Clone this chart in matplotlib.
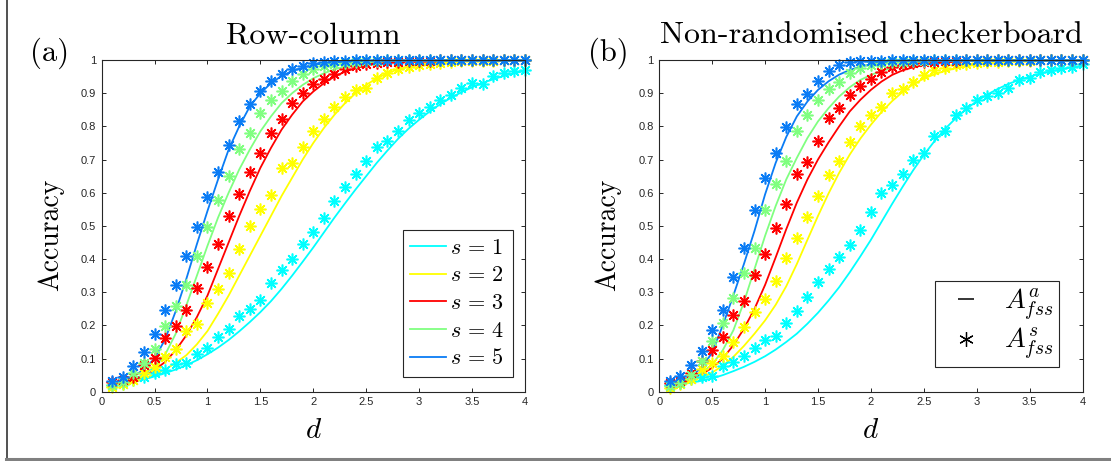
import numpy as np
import matplotlib
matplotlib.use("Agg")
import matplotlib.pyplot as plt
from matplotlib.lines import Line2D

plt.rcParams["mathtext.fontset"] = "cm"
plt.rcParams["font.family"] = ["Liberation Sans", "DejaVu Sans"]

# signal strength d, sampled every 0.1
d = np.linspace(0.1, 4.0, 40)
s_labels = [r"$s\,=\,1$", r"$s\,=\,2$", r"$s\,=\,3$", r"$s\,=\,4$", r"$s\,=\,5$"]
s_colors = ["#00FFFF", "#FFFF00", "#FF0000", "#80FF80", "#0A7CF5"]

xtick_vals = [0, 0.5, 1, 1.5, 2, 2.5, 3, 3.5, 4]
xtick_labels = ["0", "0.5", "1", "1.5", "2", "2.5", "3", "3.5", "4"]
ytick_vals = [0, 0.1, 0.2, 0.3, 0.4, 0.5, 0.6, 0.7, 0.8, 0.9, 1]
ytick_labels = ["0", "0.1", "0.2", "0.3", "0.4", "0.5", "0.6", "0.7", "0.8", "0.9", "1"]

# ---- Row-column design: analytic accuracy (lines) and simulated (stars)
rc_line_s1 = [0.022, 0.026, 0.031, 0.038, 0.046, 0.056, 0.067, 0.080, 0.095, 0.113,
              0.133, 0.156, 0.182, 0.210, 0.240, 0.273, 0.310, 0.350, 0.392, 0.435,
              0.480, 0.525, 0.568, 0.610, 0.650, 0.690, 0.727, 0.762, 0.793, 0.820,
              0.845, 0.867, 0.886, 0.903, 0.918, 0.931, 0.942, 0.952, 0.960, 0.967]
rc_line_s2 = [0.022, 0.027, 0.033, 0.041, 0.052, 0.067, 0.087, 0.110, 0.143, 0.183,
              0.235, 0.290, 0.350, 0.410, 0.470, 0.530, 0.590, 0.645, 0.700, 0.750,
              0.795, 0.835, 0.870, 0.900, 0.925, 0.945, 0.960, 0.972, 0.980, 0.986,
              0.990, 0.993, 0.995, 0.997, 0.998, 0.998, 0.999, 0.999, 0.999, 1.000]
rc_line_s3 = [0.022, 0.027, 0.035, 0.047, 0.065, 0.090, 0.125, 0.170, 0.225, 0.290,
              0.370, 0.450, 0.530, 0.605, 0.675, 0.735, 0.790, 0.835, 0.875, 0.905,
              0.930, 0.950, 0.965, 0.976, 0.984, 0.990, 0.993, 0.996, 0.997, 0.998,
              0.999, 0.999, 0.999, 1.000, 1.000, 1.000, 1.000, 1.000, 1.000, 1.000]
rc_line_s4 = [0.022, 0.028, 0.037, 0.052, 0.075, 0.112, 0.175, 0.260, 0.350, 0.440,
              0.525, 0.600, 0.670, 0.730, 0.785, 0.830, 0.870, 0.900, 0.925, 0.945,
              0.960, 0.972, 0.980, 0.986, 0.990, 0.993, 0.995, 0.997, 0.998, 0.999,
              0.999, 0.999, 1.000, 1.000, 1.000, 1.000, 1.000, 1.000, 1.000, 1.000]
rc_line_s5 = [0.022, 0.030, 0.045, 0.068, 0.100, 0.158, 0.243, 0.340, 0.445, 0.545,
              0.640, 0.730, 0.800, 0.860, 0.900, 0.930, 0.952, 0.967, 0.977, 0.985,
              0.990, 0.993, 0.995, 0.997, 0.998, 0.999, 0.999, 1.000, 1.000, 1.000,
              1.000, 1.000, 1.000, 1.000, 1.000, 1.000, 1.000, 1.000, 1.000, 1.000]

rc_star_s1 = [0.020, 0.022, 0.035, 0.045, 0.055, 0.065, 0.085, 0.087, 0.113, 0.133,
              0.165, 0.189, 0.227, 0.248, 0.278, 0.328, 0.367, 0.400, 0.445, 0.482,
              0.523, 0.576, 0.618, 0.656, 0.696, 0.737, 0.756, 0.787, 0.819, 0.841,
              0.859, 0.879, 0.894, 0.917, 0.930, 0.928, 0.953, 0.960, 0.968, 0.970]
rc_star_s2 = [0.015, 0.023, 0.035, 0.057, 0.075, 0.105, 0.130, 0.182, 0.203, 0.267,
              0.310, 0.357, 0.430, 0.500, 0.550, 0.593, 0.675, 0.690, 0.739, 0.786,
              0.822, 0.857, 0.889, 0.910, 0.917, 0.947, 0.960, 0.972, 0.980, 0.985,
              0.989, 0.992, 0.994, 0.996, 0.997, 0.998, 0.998, 0.999, 0.999, 0.999]
rc_star_s3 = [0.030, 0.035, 0.045, 0.080, 0.103, 0.163, 0.197, 0.247, 0.313, 0.375,
              0.445, 0.530, 0.596, 0.663, 0.719, 0.781, 0.822, 0.871, 0.900, 0.927,
              0.942, 0.957, 0.972, 0.982, 0.988, 0.990, 0.993, 0.995, 0.997, 0.998,
              0.998, 0.999, 0.999, 0.999, 1.000, 1.000, 1.000, 1.000, 1.000, 1.000]
rc_star_s4 = [0.020, 0.028, 0.055, 0.087, 0.130, 0.198, 0.257, 0.323, 0.410, 0.497,
              0.578, 0.651, 0.731, 0.781, 0.839, 0.879, 0.908, 0.937, 0.957, 0.972,
              0.982, 0.988, 0.992, 0.995, 0.997, 0.998, 0.999, 0.999, 1.000, 1.000,
              1.000, 1.000, 1.000, 1.000, 1.000, 1.000, 1.000, 1.000, 1.000, 1.000]
rc_star_s5 = [0.033, 0.045, 0.077, 0.120, 0.175, 0.247, 0.323, 0.410, 0.497, 0.586,
              0.661, 0.744, 0.816, 0.867, 0.906, 0.938, 0.958, 0.972, 0.982, 0.990,
              0.995, 0.996, 0.998, 0.999, 0.999, 1.000, 1.000, 1.000, 1.000, 1.000,
              1.000, 1.000, 1.000, 1.000, 1.000, 1.000, 1.000, 1.000, 1.000, 1.000]

# ---- Non-randomised checkerboard design
cb_line_s1 = [0.020, 0.023, 0.027, 0.033, 0.040, 0.050, 0.062, 0.075, 0.090, 0.107,
              0.127, 0.150, 0.175, 0.205, 0.238, 0.275, 0.315, 0.360, 0.408, 0.458,
              0.512, 0.566, 0.618, 0.668, 0.714, 0.755, 0.792, 0.824, 0.852, 0.876,
              0.896, 0.913, 0.928, 0.940, 0.950, 0.959, 0.966, 0.972, 0.978, 0.983]
cb_line_s2 = [0.020, 0.025, 0.032, 0.043, 0.058, 0.078, 0.105, 0.138, 0.175, 0.215,
              0.262, 0.318, 0.385, 0.458, 0.530, 0.598, 0.660, 0.715, 0.763, 0.805,
              0.843, 0.876, 0.904, 0.927, 0.944, 0.957, 0.967, 0.975, 0.981, 0.986,
              0.990, 0.993, 0.995, 0.996, 0.997, 0.998, 0.999, 0.999, 0.999, 1.000]
cb_line_s3 = [0.020, 0.027, 0.038, 0.053, 0.072, 0.100, 0.140, 0.190, 0.250, 0.322,
              0.405, 0.490, 0.570, 0.640, 0.700, 0.752, 0.800, 0.845, 0.880, 0.910,
              0.935, 0.955, 0.969, 0.978, 0.985, 0.990, 0.993, 0.995, 0.997, 0.998,
              0.999, 0.999, 1.000, 1.000, 1.000, 1.000, 1.000, 1.000, 1.000, 1.000]
cb_line_s4 = [0.020, 0.028, 0.040, 0.058, 0.082, 0.125, 0.185, 0.270, 0.370, 0.470,
              0.560, 0.640, 0.705, 0.765, 0.815, 0.855, 0.890, 0.918, 0.940, 0.955,
              0.967, 0.976, 0.983, 0.988, 0.992, 0.994, 0.996, 0.997, 0.998, 0.999,
              0.999, 1.000, 1.000, 1.000, 1.000, 1.000, 1.000, 1.000, 1.000, 1.000]
cb_line_s5 = [0.022, 0.030, 0.047, 0.072, 0.118, 0.200, 0.290, 0.385, 0.485, 0.595,
              0.690, 0.768, 0.830, 0.875, 0.910, 0.936, 0.956, 0.970, 0.980, 0.987,
              0.992, 0.995, 0.997, 0.998, 0.999, 0.999, 1.000, 1.000, 1.000, 1.000,
              1.000, 1.000, 1.000, 1.000, 1.000, 1.000, 1.000, 1.000, 1.000, 1.000]

cb_star_s1 = [0.020, 0.025, 0.037, 0.045, 0.047, 0.077, 0.089, 0.107, 0.132, 0.157,
              0.169, 0.207, 0.242, 0.285, 0.332, 0.370, 0.407, 0.442, 0.488, 0.541,
              0.600, 0.622, 0.655, 0.698, 0.721, 0.771, 0.786, 0.833, 0.855, 0.879,
              0.891, 0.902, 0.916, 0.941, 0.947, 0.964, 0.969, 0.976, 0.979, 0.989]
cb_star_s2 = [0.012, 0.022, 0.039, 0.067, 0.087, 0.109, 0.149, 0.195, 0.239, 0.279,
              0.335, 0.402, 0.462, 0.527, 0.590, 0.653, 0.695, 0.753, 0.801, 0.835,
              0.858, 0.900, 0.914, 0.934, 0.954, 0.969, 0.976, 0.984, 0.988, 0.991,
              0.993, 0.995, 0.996, 0.997, 0.998, 0.999, 0.999, 0.999, 1.000, 1.000]
cb_star_s3 = [0.027, 0.032, 0.055, 0.092, 0.127, 0.165, 0.232, 0.272, 0.352, 0.415,
              0.495, 0.567, 0.655, 0.693, 0.755, 0.825, 0.855, 0.896, 0.921, 0.942,
              0.964, 0.979, 0.986, 0.990, 0.993, 0.995, 0.997, 0.998, 0.999, 0.999,
              1.000, 1.000, 1.000, 1.000, 1.000, 1.000, 1.000, 1.000, 1.000, 1.000]
cb_star_s4 = [0.017, 0.025, 0.050, 0.092, 0.152, 0.207, 0.282, 0.357, 0.432, 0.547,
              0.625, 0.695, 0.785, 0.835, 0.878, 0.914, 0.934, 0.961, 0.977, 0.984,
              0.990, 0.993, 0.995, 0.997, 0.998, 0.999, 0.999, 1.000, 1.000, 1.000,
              1.000, 1.000, 1.000, 1.000, 1.000, 1.000, 1.000, 1.000, 1.000, 1.000]
cb_star_s5 = [0.032, 0.047, 0.082, 0.122, 0.187, 0.247, 0.347, 0.432, 0.547, 0.645,
              0.721, 0.798, 0.868, 0.899, 0.937, 0.967, 0.986, 0.994, 0.996, 0.997,
              0.998, 0.999, 0.999, 1.000, 1.000, 1.000, 1.000, 1.000, 1.000, 1.000,
              1.000, 1.000, 1.000, 1.000, 1.000, 1.000, 1.000, 1.000, 1.000, 1.000]

rc_lines = [rc_line_s1, rc_line_s2, rc_line_s3, rc_line_s4, rc_line_s5]
rc_stars = [rc_star_s1, rc_star_s2, rc_star_s3, rc_star_s4, rc_star_s5]
cb_lines = [cb_line_s1, cb_line_s2, cb_line_s3, cb_line_s4, cb_line_s5]
cb_stars = [cb_star_s1, cb_star_s2, cb_star_s3, cb_star_s4, cb_star_s5]

AX_COL = "#262626"
star = (8, 2, 0)


def draw_panel(ax, lines, stars):
    handles = []
    for y, c, lab in zip(lines, s_colors, s_labels):
        h, = ax.plot(d, y, color=c, lw=1.3, label=lab)
        handles.append(h)
    for y, c in zip(stars, s_colors):
        ax.plot(d, y, ls="none", marker=star, ms=8.5, mew=1.15, mec=c, mfc=c, clip_on=False)
    ax.set_xlim(0, 4)
    ax.set_ylim(0, 1)
    ax.set_xticks(xtick_vals)
    ax.set_xticklabels(xtick_labels)
    ax.set_yticks(ytick_vals)
    ax.set_yticklabels(ytick_labels)
    ax.tick_params(direction="in", length=3, width=0.7, colors=AX_COL, labelsize=8,
                   top=True, right=True, pad=4)
    for sp in ax.spines.values():
        sp.set_color(AX_COL)
        sp.set_linewidth(0.8)
    return handles


fig = plt.figure(figsize=(11.11, 4.61), dpi=100)
ax1 = fig.add_axes([0.0915, 0.1503, 0.381, 0.7195])
ax2 = fig.add_axes([0.5934, 0.1503, 0.381, 0.7195])

h1 = draw_panel(ax1, rc_lines, rc_stars)
draw_panel(ax2, cb_lines, cb_stars)

leg1 = ax1.legend(handles=h1, loc="lower right", bbox_to_anchor=(0.971, 0.044),
                  borderaxespad=0, fontsize=16, handlelength=1.6, handletextpad=0.2,
                  labelspacing=0.3, borderpad=0.35, fancybox=False, framealpha=1,
                  edgecolor=AX_COL)
leg1.get_frame().set_linewidth(0.8)

# key for analytic (line) versus simulated (asterisk) accuracy
ab_handles = [Line2D([], [], color="k", ls="none", marker="_", ms=12, mew=1.1),
              Line2D([], [], color="k", ls="none", marker=(6, 2, 0), ms=10.5, mew=0.9)]
ab_labels = [r"$A^{a}_{fss}$", r"$A^{s}_{fss}$"]
leg2 = ax2.legend(handles=ab_handles, labels=ab_labels, numpoints=1,
                  loc="lower right", bbox_to_anchor=(0.9445, 0.0745), borderaxespad=0,
                  fontsize=20, handlelength=1.9, handletextpad=0.4, labelspacing=0.15,
                  borderpad=0.2, fancybox=False, framealpha=1, edgecolor=AX_COL)
leg2.get_frame().set_linewidth(0.8)

# titles, panel tags and axis labels in Computer Modern
serif = dict(family="cmr10", color="k")
fig.text(0.2818, 0.9067, "Row-column", fontsize=23, ha="center", va="baseline", **serif)
fig.text(0.784, 0.9067, "Non-randomised checkerboard", fontsize=23, ha="center",
         va="baseline", **serif)
fig.text(0.027, 0.868, "(a)", fontsize=22, ha="left", va="baseline", **serif)
fig.text(0.529, 0.868, "(b)", fontsize=22, ha="left", va="baseline", **serif)
fig.text(0.046, 0.49, "Accuracy", fontsize=20, rotation=90, ha="center", va="center", **serif)
fig.text(0.547, 0.49, "Accuracy", fontsize=20, rotation=90, ha="center", va="center", **serif)
fig.text(0.2818, 0.067, r"$d$", fontsize=21, ha="center", va="center")
fig.text(0.784, 0.067, r"$d$", fontsize=21, ha="center", va="center")

# frame around the figure
fig.add_artist(Line2D([0.006, 0.006], [0.005, 1.0], color="#333333", lw=1.2))
fig.add_artist(Line2D([0.005, 1.0], [0.0045, 0.0045], color="#808080", lw=2.2))

fig.savefig("out.png", dpi=100)
